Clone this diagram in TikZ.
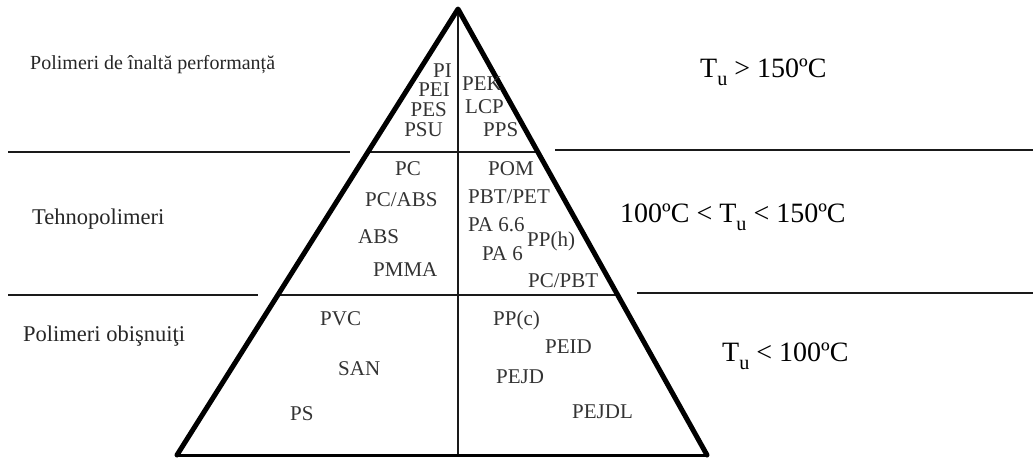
\documentclass[tikz,border=0pt]{standalone}
\usepackage{fontspec}
\setmainfont{Liberation Serif}
\usetikzlibrary{calc}
\definecolor{inkgray}{HTML}{333333}
\definecolor{linegray}{HTML}{1A1A1A}
\newcommand{\mysub}[1]{\raisebox{-0.28em}{\scalebox{0.72}{#1}}}
\tikzset{
  item/.style={inner sep=0pt, text height=0.662em, text depth=0pt, text=inkgray, font=\fontsize{21}{21}\selectfont},
  grp/.style={inner sep=0pt, text height=0.662em, text depth=0pt, anchor=west, text=black!85, font=\fontsize{20}{20}\selectfont},
  grpbig/.style={grp, font=\fontsize{22.5}{22.5}\selectfont},
  temp/.style={inner sep=0pt, text height=0.662em, text depth=0pt, anchor=west, text=black, font=\fontsize{28}{28}\selectfont},
  thinline/.style={line width=2pt, draw=linegray},
  edge/.style={line width=5pt, draw=black, line cap=round, line join=round}
}
\begin{document}
\begin{tikzpicture}[x=1pt,y=-1pt]
\useasboundingbox (0,0) rectangle (1033,459);
% pyramid corners
\coordinate (top) at (458,9);
\coordinate (bl) at (177,455);
\coordinate (br) at (707,455);
\coordinate (l1) at ($(top)!0.3206!(bl)$);
\coordinate (r1) at ($(top)!0.3206!(br)$);
\coordinate (l2) at ($(top)!0.6413!(bl)$);
\coordinate (r2) at ($(top)!0.6413!(br)$);
\coordinate (vb) at (458,455);
% outer lines
\coordinate (a1) at (8,152); \coordinate (b1) at (350,152);
\coordinate (c1) at (555,150); \coordinate (d1) at (1033,150);
\coordinate (a2) at (8,295); \coordinate (b2) at (258,295);
\coordinate (c2) at (637,293); \coordinate (d2) at (1033,293);
\draw[thinline] (a1) -- (b1);
\draw[thinline] (c1) -- (d1);
\draw[thinline] (a2) -- (b2);
\draw[thinline] (c2) -- (d2);
\draw[thinline] (l1) -- (r1);
\draw[thinline] (l2) -- (r2);
\draw[thinline] (top) -- (vb);
\draw[line width=3pt] (bl) -- (br);
\draw[edge] (bl) -- (top) -- (br);
% group labels
\node[grp] (g1) at (30,66) {Polimeri de înaltă performanță};
\node[grpbig] (g2) at (32,221) {Tehnopolimeri};
\node[grpbig] (g3) at (23,338) {Polimeri obişnuiţi};
% temperatures
\node[temp] (t1) at (700,74) {T\mysub{u} > 150ºC};
\node[temp] (t2) at (620,219) {100ºC < T\mysub{u} < 150ºC};
\node[temp] (t3) at (722,358) {T\mysub{u} < 100ºC};
% top section
\node[item, anchor=east] (pi) at (452,74) {PI};
\node[item, anchor=east] (pei) at (450,93) {PEI};
\node[item, anchor=east] (pes) at (447,113) {PES};
\node[item, anchor=east] (psu) at (443,133) {PSU};
\node[item, anchor=west] (pek) at (462,87) {PEK};
\node[item, anchor=west] (lcp) at (465,110) {LCP};
\node[item, anchor=west] (pps) at (483,133) {PPS};
% middle section
\node[item, anchor=west] (pc) at (395,172) {PC};
\node[item, anchor=west] (pcabs) at (365,203) {PC/ABS};
\node[item, anchor=west] (abs) at (358,240) {ABS};
\node[item, anchor=west] (pmma) at (373,273) {PMMA};
\node[item, anchor=west] (pom) at (488,172) {POM};
\node[item, anchor=west] (pbtpet) at (468,200) {PBT/PET};
\node[item, anchor=west] (pa66) at (468,228) {PA 6.6};
\node[item, anchor=west] (pph) at (527,243) {PP(h)};
\node[item, anchor=west] (pa6) at (482,257) {PA 6};
\node[item, anchor=west] (pcpbt) at (528,284) {PC/PBT};
% bottom section
\node[item, anchor=west] (pvc) at (320,322) {PVC};
\node[item, anchor=west] (san) at (338,372) {SAN};
\node[item, anchor=west] (ps) at (290,417) {PS};
\node[item, anchor=west] (ppc) at (493,322) {PP(c)};
\node[item, anchor=west] (peid) at (545,350) {PEID};
\node[item, anchor=west] (pejd) at (496,380) {PEJD};
\node[item, anchor=west] (pejdl) at (572,415) {PEJDL};
\end{tikzpicture}
\end{document}
